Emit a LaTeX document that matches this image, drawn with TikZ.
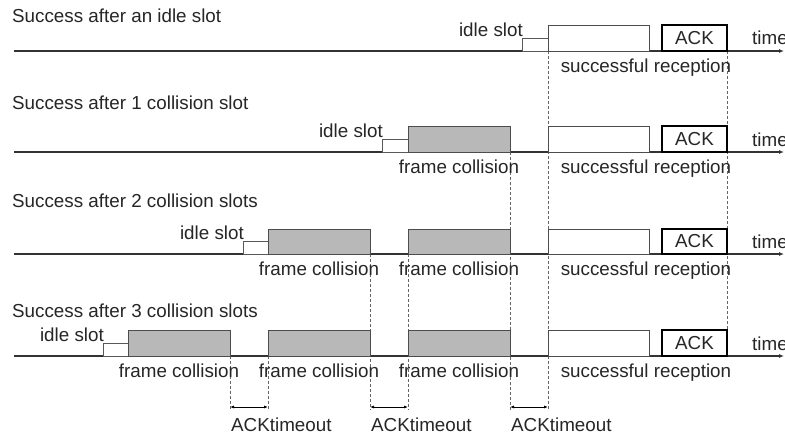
\documentclass[tikz,border=0pt]{standalone}
\usepackage{fontspec}
\setmainfont{Liberation Sans}
\usetikzlibrary{arrows.meta}
\begin{document}
\begin{tikzpicture}[x=1pt,y=-1pt,
  txt/.style={font=\fontsize{18.8}{22}\selectfont, text=black!85, inner sep=0pt},
  tline/.style={draw=black!80, line width=1.2pt, -{Latex[length=5pt,width=4pt]}},
  idlebox/.style={draw=black!65, line width=0.9pt, fill=white},
  collbox/.style={draw=black!70, line width=0.9pt, fill=black!28},
  succbox/.style={draw=black!70, line width=0.9pt, fill=white},
  ackbox/.style={draw=black, line width=2.2pt},
  vdash/.style={draw=black!60, line width=0.8pt, dash pattern=on 3pt off 2pt},
  tmo/.style={draw=black, line width=0.8pt, {Latex[length=4pt,width=3pt]}-{Latex[length=4pt,width=3pt]}}]
\useasboundingbox (0,0) rectangle (785,439);
\fill[white] (0,0) rectangle (785,439);

% dashed guide lines
\draw[vdash] (548,51) -- (548,410);
\draw[vdash] (727,51) -- (727,330);
\draw[vdash] (510,152) -- (510,410);
\draw[vdash] (408,254) -- (408,410);
\draw[vdash] (370,254) -- (370,410);
\draw[vdash] (268,356) -- (268,410);
\draw[vdash] (230,356) -- (230,410);

% ---------- row 1 ----------
\node[txt, anchor=base west] (t1) at (12,23) {Success after an idle slot};
\draw[tline] (14,51) -- (784,51);
\draw[idlebox] (522,38) rectangle (548,51);
\node[txt, anchor=base east] (i1) at (523,36.5) {idle slot};
\draw[succbox] (548,25) rectangle (649,51);
\draw[ackbox] (662,25) rectangle (727,51);
\node[txt] (a1) at (694.5,38) {ACK};
\node[txt, anchor=base west] (m1) at (752,45) {time};
\node[txt, anchor=base] (s1) at (646,72) {successful reception};

% ---------- row 2 ----------
\node[txt, anchor=base west] (t2) at (12,109) {Success after 1 collision slot};
\draw[tline] (14,152) -- (784,152);
\draw[idlebox] (382,139) rectangle (408,152);
\node[txt, anchor=base east] (i2) at (383,137.5) {idle slot};
\draw[collbox] (408,126) rectangle (510,152);
\node[txt, anchor=base] (c21) at (459,173) {frame collision};
\draw[succbox] (548,126) rectangle (649,152);
\draw[ackbox] (662,126) rectangle (727,152);
\node[txt] (a2) at (694.5,139) {ACK};
\node[txt, anchor=base west] (m2) at (752,146) {time};
\node[txt, anchor=base] (s2) at (646,173) {successful reception};

% ---------- row 3 ----------
\node[txt, anchor=base west] (t3) at (12,207) {Success after 2 collision slots};
\draw[tline] (14,254) -- (784,254);
\draw[idlebox] (243,241) rectangle (268,254);
\node[txt, anchor=base east] (i3) at (244,239.5) {idle slot};
\draw[collbox] (268,229) rectangle (370,254);
\draw[collbox] (408,229) rectangle (510,254);
\node[txt, anchor=base] (c31) at (319,275) {frame collision};
\node[txt, anchor=base] (c32) at (459,275) {frame collision};
\draw[succbox] (548,229) rectangle (649,254);
\draw[ackbox] (662,229) rectangle (727,254);
\node[txt] (a3) at (694.5,241.5) {ACK};
\node[txt, anchor=base west] (m3) at (752,248) {time};
\node[txt, anchor=base] (s3) at (646,275) {successful reception};

% ---------- row 4 ----------
\node[txt, anchor=base west] (t4) at (12,317) {Success after 3 collision slots};
\draw[tline] (14,356) -- (784,356);
\draw[idlebox] (103,343) rectangle (128,356);
\node[txt, anchor=base east] (i4) at (104,341.5) {idle slot};
\draw[collbox] (128,330) rectangle (230,356);
\draw[collbox] (268,330) rectangle (370,356);
\draw[collbox] (408,330) rectangle (510,356);
\node[txt, anchor=base] (c41) at (179,377) {frame collision};
\node[txt, anchor=base] (c42) at (319,377) {frame collision};
\node[txt, anchor=base] (c43) at (459,377) {frame collision};
\draw[succbox] (548,330) rectangle (649,356);
\draw[ackbox] (662,330) rectangle (727,356);
\node[txt] (a4) at (694.5,343) {ACK};
\node[txt, anchor=base west] (m4) at (752,350) {time};
\node[txt, anchor=base] (s4) at (646,377) {successful reception};

% ---------- ACK timeouts ----------
\coordinate (p1a) at (230,407); \coordinate (p1b) at (268,407);
\coordinate (p2a) at (370,407); \coordinate (p2b) at (408,407);
\coordinate (p3a) at (510,407); \coordinate (p3b) at (548,407);
\draw[tmo] (p1a) -- (p1b);
\draw[tmo] (p2a) -- (p2b);
\draw[tmo] (p3a) -- (p3b);
\node[txt, anchor=base west] (k1) at (231,431) {ACKtimeout};
\node[txt, anchor=base west] (k2) at (371,431) {ACKtimeout};
\node[txt, anchor=base west] (k3) at (511,431) {ACKtimeout};
\end{tikzpicture}
\end{document}
